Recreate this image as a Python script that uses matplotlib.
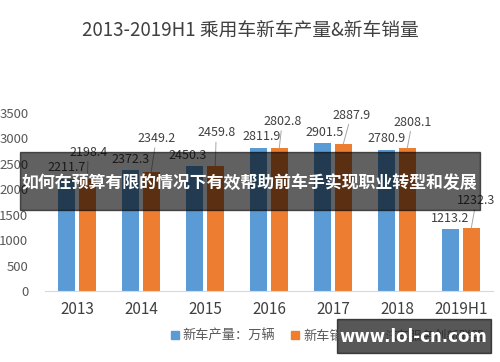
import matplotlib
matplotlib.use("Agg")
from matplotlib import pyplot as plt
from matplotlib.patches import Patch, Rectangle
import numpy as np

plt.rcParams['font.family'] = ['Noto Sans CJK SC', 'DejaVu Sans']

##### data
years = ['2013', '2014', '2015', '2016', '2017', '2018', '2019H1']
production = [2211.7, 2372.3, 2450.3, 2811.9, 2901.5, 2780.9, 1213.2]   # 新车产量
sales = [2198.4, 2349.2, 2459.8, 2802.8, 2887.9, 2808.1, 1232.3]        # 新车销量

# label offsets in pixels (dx, dy) from the bar top
prod_dx = [0, 0, -7, 3, 2, 0, -1]
sales_off = [(1, 27), (5, 33), (1, 33), (3, 27), (8, 29), (5, 26), (5, 28)]

blue = '#5B9BD5'
orange = '#ED7D31'
txt = '#404040'

##### plot
fig = plt.figure(figsize=(5, 3.62), dpi=100)
ax = fig.add_axes([0.09, 0.196, 0.896, 0.492])

x = np.arange(len(years))
w = 0.27
b1 = ax.bar(x - 0.16, production, w, color=blue)
b2 = ax.bar(x + 0.16, sales, w, color=orange)

for rect, v, dx in zip(b1, production, prod_dx):
    ax.annotate(f'{v:.1f}', (rect.get_x() + rect.get_width() / 2, v),
                xytext=(dx, 11), textcoords='offset pixels',
                ha='center', va='center', fontsize=9, color=txt)
for rect, v, off in zip(b2, sales, sales_off):
    ax.annotate(f'{v:.1f}', (rect.get_x() + rect.get_width() / 2, v),
                xytext=off, textcoords='offset pixels',
                ha='center', va='center', fontsize=9, color=txt,
                arrowprops=dict(arrowstyle='-', color='#a6a6a6', lw=0.7,
                                shrinkA=0, shrinkB=0))

ax.set_xlim(-0.5, len(years) - 0.5)
ax.set_ylim(0, 3500)
ax.set_yticks(range(0, 3501, 500))
ax.set_xticks(x)
ax.set_xticklabels(years, fontsize=11, color=txt)
ax.tick_params(axis='y', labelsize=9.5, labelcolor='#595959', length=0, pad=12)
ax.tick_params(axis='x', length=0, pad=7)
for s in ['top', 'right', 'left']:
    ax.spines[s].set_visible(False)
ax.spines['bottom'].set_color('#d9d9d9')

fig.text(0.5, 1 - 30 / 362, '2013-2019H1 乘用车新车产量&新车销量',
         ha='center', va='center', fontsize=13.5, color=txt)

handles = [Patch(color=blue, label='新车产量：万辆'), Patch(color=orange, label='新车销量：万辆')]
fig.legend(handles=handles, loc='center', bbox_to_anchor=(0.567, 0.072), ncol=2,
           frameon=False, fontsize=9.5, handlelength=0.6, handleheight=0.6,
           handletextpad=0.3, columnspacing=1.2, labelcolor='#595959')

# overlay banner
fig.patches.append(Rectangle((20 / 500, 1 - 210 / 362), 460 / 500, 58 / 362,
                             transform=fig.transFigure, color='black', alpha=0.62, zorder=5))
fig.text(21 / 500, 1 - 183 / 362, '如何在预算有限的情况下有效帮助前车手实现职业转型和发展',
         ha='left', va='center', fontsize=12.2, fontweight='bold', color='white', zorder=6)

# watermark
fig.text(0.87, 1 - 336 / 362, '汽车服务创新联盟', ha='center', va='center',
         fontsize=9, color='#8a8a8a', zorder=4)
fig.patches.append(Rectangle((337 / 500, 1 - 353 / 362), 154 / 500, 34 / 362,
                             transform=fig.transFigure, color='black', alpha=0.66, zorder=5))
fig.text(413 / 500, 1 - 337 / 362, 'www.lol-cn.com', ha='center', va='center',
         fontsize=12, fontweight='bold', color='white', family='DejaVu Sans', zorder=6)

plt.savefig('out.png')
